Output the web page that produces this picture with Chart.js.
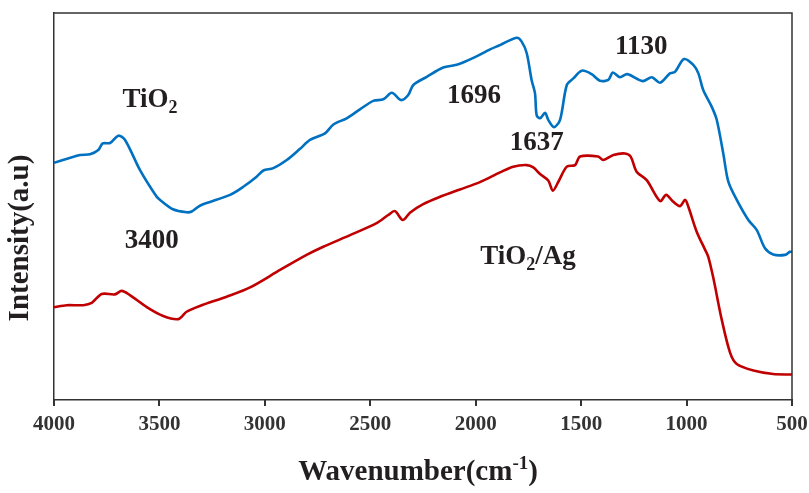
<!DOCTYPE html>
<html>
<head>
<meta charset="utf-8">
<script src="https://cdn.jsdelivr.net/npm/chart.js@4.4.1/dist/chart.umd.min.js"></script>
<style>
  html, body { margin: 0; padding: 0; background: #fff; }
</style>
</head>
<body>
<canvas id="myChart" width="809" height="493"></canvas>
<script>
// espectro TiO2 (azul)
var tio2_x = [4000, 3877, 3829, 3790, 3769, 3734, 3695, 3663, 3592, 3513, 3497, 3436, 3371, 3347, 3308,
  3165, 3102, 3039, 3007, 2960, 2896, 2833, 2786, 2715, 2675, 2612, 2549, 2486, 2438, 2398, 2354, 2320,
  2296, 2232, 2154, 2090, 2011, 1932, 1885, 1806, 1782, 1758, 1735, 1719, 1711, 1695, 1671, 1656, 1629,
  1600, 1568, 1537, 1497, 1450, 1411, 1371, 1350, 1316, 1281, 1208, 1165, 1126, 1079, 1055, 1012, 968,
  944, 921, 881, 857, 826, 802, 762, 707, 667, 628, 589, 533, 510, 500]
var tio2_y = [61.3, 63.3, 63.5, 64.6, 66.3, 66.4, 68.3, 67.2, 59.4, 52.5, 51.7, 49.3, 48.5, 48.7, 50.2,
  53.0, 55.1, 57.7, 59.3, 59.9, 62.0, 64.9, 67.2, 68.9, 71.2, 72.8, 75.1, 77.3, 77.7, 79.4, 77.5, 78.8,
  81.4, 83.5, 85.9, 86.6, 88.4, 90.6, 91.7, 93.6, 92.6, 89.6, 82.7, 79.3, 73.6, 72.8, 74.2, 72.4, 70.5,
  72.4, 81.4, 83.1, 85.1, 84.2, 82.5, 82.7, 84.6, 83.4, 84.2, 82.4, 83.4, 82.0, 84.4, 84.8, 88.1, 86.6,
  84.4, 80.1, 75.8, 72.4, 63.7, 56.4, 51.7, 46.5, 43.9, 39.2, 37.6, 37.5, 38.3, 38.3]

// espectro TiO2/Ag (vermelho)
var tioag_x = [4000, 3940, 3861, 3821, 3774, 3711, 3679, 3640, 3560, 3482, 3410, 3371, 3308, 3181, 3070,
  2928, 2802, 2723, 2596, 2470, 2415, 2383, 2346, 2312, 2249, 2169, 2075, 1980, 1885, 1822, 1758, 1727,
  1695, 1656, 1634, 1608, 1568, 1529, 1505, 1419, 1395, 1347, 1292, 1265, 1237, 1189, 1126, 1097, 1063,
  1031, 1007, 992, 952, 912, 897, 873, 833, 793, 762, 683, 589, 500]
var tioag_y = [24.0, 24.5, 24.5, 25.1, 27.4, 27.3, 28.2, 27.1, 24.0, 21.7, 20.9, 22.8, 24.3, 26.7, 29.1,
  33.6, 37.5, 39.6, 42.6, 45.7, 47.8, 48.8, 46.5, 48.4, 50.6, 52.5, 54.4, 56.3, 58.8, 60.3, 60.7, 60.1,
  58.4, 56.7, 54.1, 56.4, 60.3, 60.7, 62.9, 62.9, 62.0, 63.3, 63.7, 62.9, 59.0, 56.8, 51.4, 53.0, 51.2,
  50.1, 51.7, 50.0, 43.5, 38.8, 37.0, 31.5, 20.7, 12.1, 9.3, 7.6, 6.7, 6.6]

var ticks_x = [4000, 3500, 3000, 2500, 2000, 1500, 1000, 500]

// rotulos dos picos (texto, posicao em numero de onda / intensidade)
var rotulos = [["TiO", "_2"], ["1696"], ["1637"], ["1130"], ["3400"], ["TiO", "_2", "/Ag"]]
var rotulos_x = [3545, 2008, 1711, 1215, 3536, 1752]
var rotulos_y = [77.5, 78.6, 66.5, 91.2, 41.1, 37]

function pares(xs, ys) {
  return xs.map(function (x, i) { return { x: x, y: ys[i] } })
}

var FONTE = "'Liberation Serif', 'Times New Roman', serif"
var COR_TEXTO = "#231f20"

function texto_partes(ctx, partes, cx, cy, tam) {
  // partes com "_" = subscrito, "^" = sobrescrito
  var larg = 0
  var medidas = partes.map(function (p) {
    var sub = p[0] == "_" || p[0] == "^"
    var t = sub ? p.slice(1) : p
    ctx.font = "bold " + (sub ? Math.round(tam * 0.65) : tam) + "px " + FONTE
    var w = ctx.measureText(t).width
    larg += w
    return { t: t, w: w, tipo: sub ? p[0] : "" }
  })
  var x = cx - larg / 2
  ctx.textBaseline = "middle"
  ctx.textAlign = "left"
  medidas.forEach(function (m) {
    var dy = 0
    var s = tam
    if (m.tipo == "_") { dy = tam * 0.3; s = Math.round(tam * 0.65) }
    if (m.tipo == "^") { dy = -tam * 0.3; s = Math.round(tam * 0.65) }
    ctx.font = "bold " + s + "px " + FONTE
    ctx.fillText(m.t, x, cy + dy)
    x += m.w
  })
}

var textos = {
  id: "textos",
  afterDraw: function (chart) {
    var ctx = chart.ctx
    var a = chart.chartArea
    var sx = chart.scales.x
    var sy = chart.scales.y
    ctx.save()
    // moldura e marcas do eixo x
    ctx.strokeStyle = "#333"
    ctx.lineWidth = 1.5
    ctx.beginPath()
    ctx.moveTo(a.left, a.top)
    ctx.lineTo(a.right, a.top)
    ctx.lineTo(a.right, a.bottom)
    ctx.stroke()
    ctx.lineWidth = 2
    ctx.beginPath()
    ticks_x.forEach(function (v) {
      var px = Math.round(sx.getPixelForValue(v))
      ctx.moveTo(px, a.bottom)
      ctx.lineTo(px, a.bottom + 6)
    })
    ctx.stroke()

    ctx.fillStyle = COR_TEXTO
    for (var i = 0; i < rotulos.length; i++) {
      texto_partes(ctx, rotulos[i], sx.getPixelForValue(rotulos_x[i]), sy.getPixelForValue(rotulos_y[i]), 27)
    }
    // titulo eixo x
    texto_partes(ctx, ["Wavenumber(cm", "^-1", ")"], 418, 473, 29)
    // titulo eixo y
    ctx.translate(21, 238)
    ctx.rotate(-Math.PI / 2)
    texto_partes(ctx, ["Intensity(a.u)"], 0, 0, 29)
    ctx.restore()
  }
}

var ctx = document.getElementById("myChart").getContext("2d")
var myChart = new Chart(ctx, {
  type: "line",
  data: {
    datasets: [
      {
        label: "TiO2",
        data: pares(tio2_x, tio2_y),
        borderColor: "#0070c0",
        borderWidth: 2.6,
        pointRadius: 0,
        tension: 0.3,
      },
      {
        label: "TiO2/Ag",
        data: pares(tioag_x, tioag_y),
        borderColor: "#c00000",
        borderWidth: 2.6,
        pointRadius: 0,
        tension: 0.3,
      },
    ],
  },
  options: {
    responsive: false,
    animation: false,
    devicePixelRatio: 1,
    layout: { padding: { top: 13, right: 17, left: 0, bottom: 0 } },
    plugins: { legend: { display: false }, tooltip: { enabled: false } },
    scales: {
      x: {
        type: "linear",
        reverse: true,
        min: 500,
        max: 4000,
        afterBuildTicks: function (s) { s.ticks = ticks_x.map(function (v) { return { value: v } }) },
        afterFit: function (s) { s.height = 93; s.paddingLeft = 0; s.paddingRight = 0 },
        grid: { display: false, tickLength: 6 },
        border: { display: true, color: "#333", width: 1.5 },
        ticks: {
          color: "#333",
          padding: 6,
          maxRotation: 0,
          autoSkip: false,
          callback: function (v) { return String(v) },
          font: { family: FONTE, size: 21, weight: "bold" },
        },
      },
      y: {
        min: 0,
        max: 100,
        afterFit: function (s) { s.width = 54 },
        grid: { display: false },
        border: { display: true, color: "#333", width: 1.5 },
        ticks: { display: false },
      },
    },
  },
  plugins: [textos],
})
</script>
</body>
</html>
